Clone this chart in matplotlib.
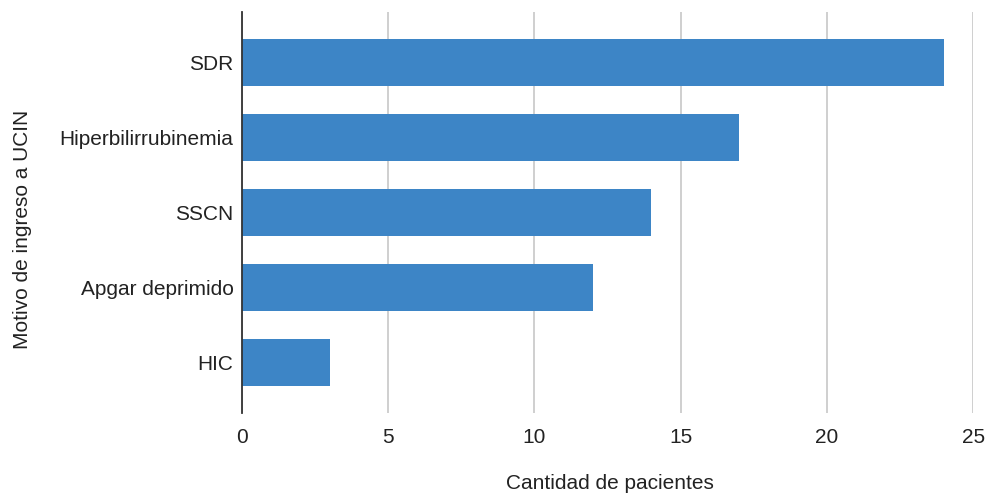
import matplotlib
matplotlib.use("Agg")
import matplotlib.pyplot as plt

# motivos de ingreso y cantidad de pacientes
motivos = ["SDR", "Hiperbilirrubinemia", "SSCN", "Apgar deprimido", "HIC"]
pacientes = [24, 17, 14, 12, 3]

plt.rcParams['font.family'] = ['Liberation Sans', 'DejaVu Sans']

fig = plt.figure(figsize=(9.87, 4.94), dpi=100)
ax = fig.add_axes([0.245, 0.164, 0.741, 0.812])

pos = list(range(len(motivos)))[::-1]
ax.barh(pos, pacientes, height=0.63, color="#3d85c6", zorder=3)

ax.set_xlim(0, 25)
ax.set_ylim(-0.67, 4.68)
ax.set_xticks([0, 5, 10, 15, 20, 25])
ax.set_yticks(pos)
ax.set_yticklabels(motivos)
ax.tick_params(axis='both', length=0, labelsize=15, colors="#222222")
ax.tick_params(axis='x', pad=11)
ax.tick_params(axis='y', pad=6)

ax.grid(axis='x', color="#cccccc", linewidth=1.3, zorder=0)
for side in ['top', 'right', 'bottom']:
    ax.spines[side].set_visible(False)
ax.spines['left'].set_color("#333333")
ax.spines['left'].set_linewidth(1.3)
ax.spines['left'].set_zorder(4)

ax.set_xlabel("Cantidad de pacientes", fontsize=15, color="#222222", va='center')
ax.set_ylabel("Motivo de ingreso a UCIN", fontsize=15, color="#222222", va='center')
ax.xaxis.set_label_coords(0.503, -0.177)
ax.yaxis.set_label_coords(-0.300, 0.458)

fig.savefig("out.png", dpi=100, facecolor="white")
